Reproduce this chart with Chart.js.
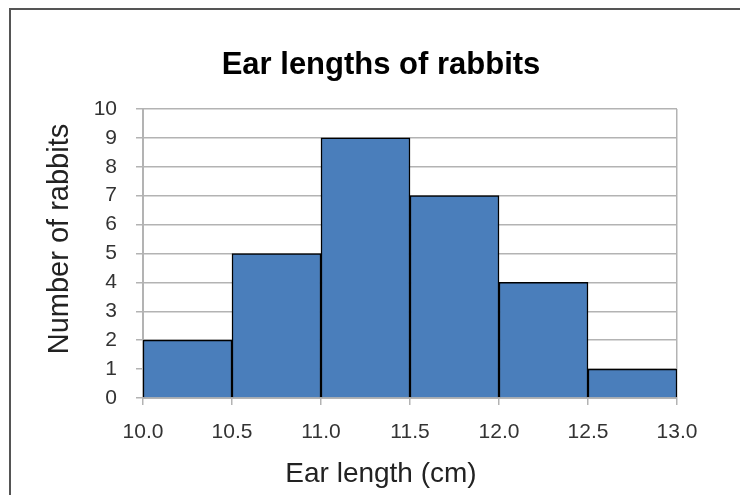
<!DOCTYPE html>
<html>
<head>
<meta charset="utf-8">
<script src="https://cdn.jsdelivr.net/npm/chart.js@4/dist/chart.umd.min.js"></script>
<style>
  body { margin: 0; background: #fff; }
  #wrap { position: relative; width: 740px; height: 495px; overflow: hidden; }
  #frame {
    position: absolute; left: 9px; top: 8px; width: 760px; height: 520px;
    border-left: 2px solid #555; border-top: 2px solid #555;
  }
  canvas { position: absolute; left: 0; top: 0; }
</style>
</head>
<body>
<div id="wrap">
  <div id="frame"></div>
  <canvas id="chart" width="740" height="495"></canvas>
</div>
<script>
const binEdges = [10.0, 10.5, 11.0, 11.5, 12.0, 12.5, 13.0];
const counts = [2, 5, 9, 7, 4, 1];
const yTicks = [0, 1, 2, 3, 4, 5, 6, 7, 8, 9, 10];

const chartTitle = 'Ear lengths of rabbits';
const xTitle = 'Ear length (cm)';
const yTitle = 'Number of rabbits';

const gridGray = '#b3b3b3';
const tickFont = { family: '"Liberation Sans", Arial, sans-serif', size: 21 };

// bars sit on the middle of each bin, width filled by the ruler
const barData = counts.map((c, i) => ({ x: (binEdges[i] + binEdges[i + 1]) / 2, y: c }));

const titlesPlugin = {
  id: 'titles',
  afterDraw(chart) {
    const ctx = chart.ctx;
    ctx.save();
    ctx.fillStyle = '#000';
    ctx.textAlign = 'center';
    ctx.textBaseline = 'alphabetic';

    ctx.font = 'bold 31px "Liberation Sans", Arial, sans-serif';
    ctx.fillText(chartTitle, 381, 74);

    ctx.fillStyle = '#222';
    ctx.font = '28px "Liberation Sans", Arial, sans-serif';
    ctx.fillText(xTitle, 381, 482);

    ctx.translate(68, 239);
    ctx.rotate(-Math.PI / 2);
    ctx.font = '29px "Liberation Sans", Arial, sans-serif';
    ctx.fillText(yTitle, 0, 0);
    ctx.restore();
  }
};

new Chart(document.getElementById('chart'), {
  type: 'bar',
  data: {
    datasets: [{
      data: barData,
      backgroundColor: '#4a7ebb',
      borderColor: '#000',
      borderWidth: 1.5,
      barPercentage: 1,
      categoryPercentage: 1
    }]
  },
  options: {
    responsive: false,
    animation: false,
    layout: { padding: { top: 109, right: 63, left: 0, bottom: 0 } },
    plugins: {
      legend: { display: false },
      tooltip: { enabled: false },
      title: { display: false }
    },
    scales: {
      x: {
        type: 'linear',
        min: binEdges[0],
        max: binEdges[binEdges.length - 1],
        offset: false,
        afterBuildTicks: (scale) => { scale.ticks = binEdges.map(v => ({ value: v })); },
        afterFit: (scale) => { scale.height = 97; },
        grid: {
          offset: false,
          color: (c) => c.index === binEdges.length - 1 ? gridGray : 'rgba(0,0,0,0)',
          tickColor: gridGray,
          lineWidth: 1.5,
          tickLength: 7
        },
        border: { color: gridGray, width: 2 },
        ticks: {
          font: tickFont,
          color: '#333',
          padding: 15,
          maxRotation: 0,
          autoSkip: false,
          callback: (v) => Number(v).toFixed(1)
        }
      },
      y: {
        min: yTicks[0],
        max: yTicks[yTicks.length - 1],
        afterBuildTicks: (scale) => { scale.ticks = yTicks.map(v => ({ value: v })); },
        afterFit: (scale) => { scale.width = 143; },
        grid: {
          color: gridGray,
          tickColor: gridGray,
          lineWidth: 1.5,
          tickLength: 7
        },
        border: { color: gridGray, width: 2 },
        ticks: {
          font: tickFont,
          color: '#333',
          padding: 19
        }
      }
    }
  },
  plugins: [titlesPlugin]
});
</script>
</body>
</html>
